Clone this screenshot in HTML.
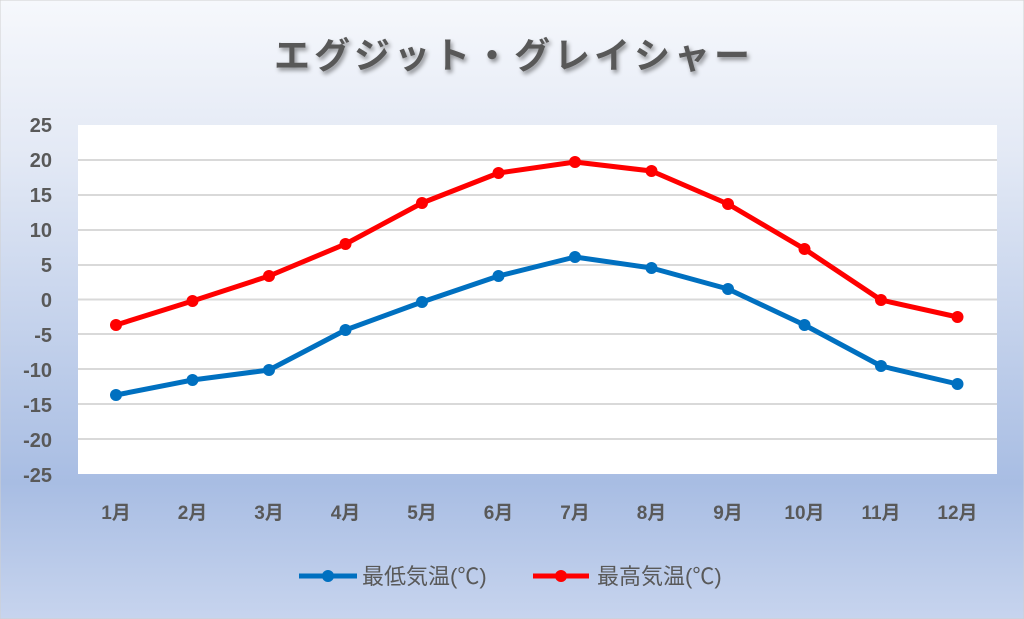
<!DOCTYPE html>
<html><head><meta charset="utf-8"><style>
body{margin:0;width:1024px;height:619px;overflow:hidden;}
svg{display:block;}
text{font-family:"Liberation Sans","Noto Sans CJK JP",sans-serif;}
</style></head><body>
<svg width="1024" height="619" viewBox="0 0 1024 619" xmlns="http://www.w3.org/2000/svg">
<defs>
<linearGradient id="bg" x1="0" y1="0" x2="0" y2="1">
<stop offset="0" stop-color="#f6f8fc"/>
<stop offset="0.25" stop-color="#e3e9f5"/>
<stop offset="0.78" stop-color="#a8bde3"/>
<stop offset="1" stop-color="#c7d4ee"/>
</linearGradient>
<filter id="sh"><feDropShadow dx="2" dy="3" stdDeviation="2" flood-color="#000" flood-opacity="0.4"/></filter>
</defs>
<rect x="0" y="0" width="1024" height="619" fill="url(#bg)" stroke="#d0d0d0"/>
<text x="514" y="68" text-anchor="middle" font-size="36" font-weight="bold" fill="#595959" filter="url(#sh)" letter-spacing="4">エグジット・グレイシャー</text>
<rect x="78" y="125" width="919" height="349" fill="#fff"/>
<g stroke="#d9d9d9" stroke-width="2">
<line x1="78" x2="997" y1="160" y2="160"/><line x1="78" x2="997" y1="195" y2="195"/>
<line x1="78" x2="997" y1="230" y2="230"/><line x1="78" x2="997" y1="265" y2="265"/>
<line x1="78" x2="997" y1="299.5" y2="299.5"/><line x1="78" x2="997" y1="334" y2="334"/>
<line x1="78" x2="997" y1="369" y2="369"/><line x1="78" x2="997" y1="404" y2="404"/>
<line x1="78" x2="997" y1="439" y2="439"/>
</g>
<g font-size="20" font-weight="bold" fill="#595959" text-anchor="end">
<text x="52" y="132">25</text><text x="52" y="167">20</text><text x="52" y="202">15</text>
<text x="52" y="237">10</text><text x="52" y="272">5</text><text x="52" y="307">0</text>
<text x="52" y="342">-5</text><text x="52" y="377">-10</text><text x="52" y="412">-15</text>
<text x="52" y="447">-20</text><text x="52" y="482">-25</text>
</g>
<g font-size="19" font-weight="bold" fill="#595959" text-anchor="middle">
<text x="116" y="519">1月</text><text x="192.5" y="519">2月</text><text x="269" y="519">3月</text>
<text x="345.5" y="519">4月</text><text x="422" y="519">5月</text><text x="498.5" y="519">6月</text>
<text x="575" y="519">7月</text><text x="651.5" y="519">8月</text><text x="728" y="519">9月</text>
<text x="804.5" y="519">10月</text><text x="881" y="519">11月</text><text x="957.5" y="519">12月</text>
</g>
<polyline fill="none" stroke="#0070c0" stroke-width="5" stroke-linejoin="round" points="116,395 192.5,380 269,370 345.5,330 422,302 498.5,276 575,257 651.5,268 728,289 804.5,325 881,366 957.5,384"/>
<g fill="#0070c0">
<circle cx="116" cy="395" r="6"/><circle cx="192.5" cy="380" r="6"/><circle cx="269" cy="370" r="6"/><circle cx="345.5" cy="330" r="6"/><circle cx="422" cy="302" r="6"/><circle cx="498.5" cy="276" r="6"/><circle cx="575" cy="257" r="6"/><circle cx="651.5" cy="268" r="6"/><circle cx="728" cy="289" r="6"/><circle cx="804.5" cy="325" r="6"/><circle cx="881" cy="366" r="6"/><circle cx="957.5" cy="384" r="6"/>
</g>
<polyline fill="none" stroke="#ff0000" stroke-width="5" stroke-linejoin="round" points="116,325 192.5,301 269,276 345.5,244 422,203 498.5,173 575,162 651.5,171 728,204 804.5,249 881,300 957.5,317"/>
<g fill="#ff0000">
<circle cx="116" cy="325" r="6"/><circle cx="192.5" cy="301" r="6"/><circle cx="269" cy="276" r="6"/><circle cx="345.5" cy="244" r="6"/><circle cx="422" cy="203" r="6"/><circle cx="498.5" cy="173" r="6"/><circle cx="575" cy="162" r="6"/><circle cx="651.5" cy="171" r="6"/><circle cx="728" cy="204" r="6"/><circle cx="804.5" cy="249" r="6"/><circle cx="881" cy="300" r="6"/><circle cx="957.5" cy="317" r="6"/>
</g>
<line x1="299" x2="357" y1="576" y2="576" stroke="#0070c0" stroke-width="5"/>
<circle cx="328" cy="576" r="6" fill="#0070c0"/>
<text x="362" y="584" font-size="22" fill="#595959">最低気温(℃)</text>
<line x1="533" x2="589" y1="576" y2="576" stroke="#ff0000" stroke-width="5"/>
<circle cx="561" cy="576" r="6" fill="#ff0000"/>
<text x="597" y="584" font-size="22" fill="#595959">最高気温(℃)</text>
</svg>
</body></html>
